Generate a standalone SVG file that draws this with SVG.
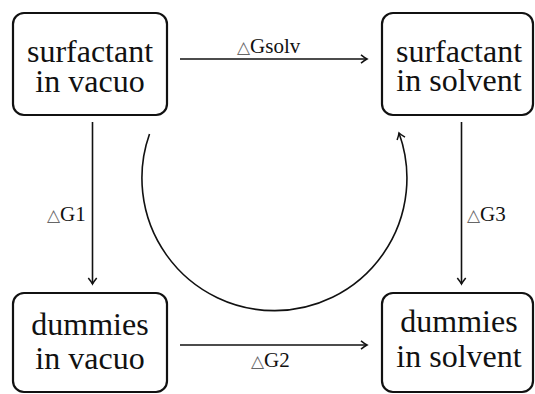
<svg xmlns="http://www.w3.org/2000/svg" width="535" height="394" viewBox="0 0 535 394">
<style>
.box{fill:#fff;stroke:#111;stroke-width:2.2}
.t{font-family:"Liberation Serif","Times New Roman",serif;font-size:32px;fill:#111;text-anchor:middle}
.lab{font-family:"Liberation Serif","Times New Roman",serif;font-size:21px;fill:#111}
.tri{font-family:"DejaVu Sans",sans-serif;font-size:17px;fill:#666}
.con{fill:none;stroke:#111;stroke-width:1.6}
</style>
<defs>
<marker id="ah" markerWidth="12" markerHeight="12" refX="0" refY="0" viewBox="-8 -6 10 12" orient="auto" markerUnits="userSpaceOnUse">
<path d="M -6 -4.2 Q -2 -1 0 0 Q -2 1 -6 4.2" fill="none" stroke="#111" stroke-width="1.5"/>
</marker>
</defs>
<g id="n1">
<rect class="box" x="13" y="13" width="154" height="102" rx="11"/>
<text class="t" x="90" y="62">surfactant</text>
<text class="t" x="90" y="92">in vacuo</text>
</g>
<g id="n2">
<rect class="box" x="382" y="13" width="151" height="102" rx="11"/>
<text class="t" x="459" y="62">surfactant</text>
<text class="t" x="459" y="91">in solvent</text>
</g>
<g id="n3">
<rect class="box" x="13" y="293" width="154" height="99" rx="11"/>
<text class="t" x="90" y="335">dummies</text>
<text class="t" x="90" y="369">in vacuo</text>
</g>
<g id="n4">
<rect class="box" x="382" y="293" width="151" height="99" rx="11"/>
<text class="t" x="459" y="332">dummies</text>
<text class="t" x="459" y="367">in solvent</text>
</g>
<g id="connectors">
<line class="con" x1="180" y1="59" x2="367" y2="59" marker-end="url(#ah)"/>
<line class="con" x1="180" y1="345" x2="367" y2="345" marker-end="url(#ah)"/>
<line class="con" x1="92.5" y1="122" x2="92.5" y2="284" marker-end="url(#ah)"/>
<line class="con" x1="461.5" y1="122" x2="461.5" y2="284" marker-end="url(#ah)"/>
<path class="con" d="M 149.5 134 A 132.5 132.5 0 1 0 399 133" marker-end="url(#ah)"/>
<text class="lab" x="237" y="53"><tspan class="tri">△</tspan><tspan dx="0">Gsolv</tspan></text>
<text class="lab" x="47" y="221"><tspan class="tri">△</tspan><tspan dx="0">G1</tspan></text>
<text class="lab" x="467" y="221"><tspan class="tri">△</tspan><tspan dx="0">G3</tspan></text>
<text class="lab" x="251" y="367"><tspan class="tri">△</tspan><tspan dx="0">G2</tspan></text>
</g>
</svg>
